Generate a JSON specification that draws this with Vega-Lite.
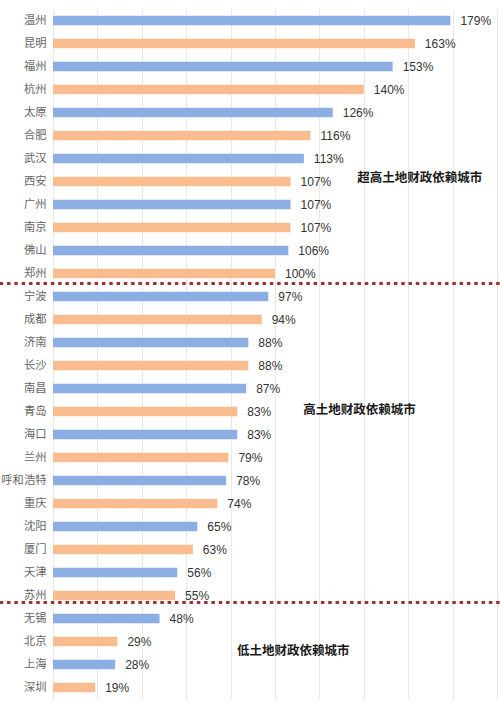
{
  "$schema": "https://vega.github.io/schema/vega-lite/v6.json",
  "width": 444,
  "height": 690,
  "autosize": {"type": "none"},
  "padding": {"left": 53, "top": 9, "right": 3, "bottom": 5},
  "background": "#ffffff",
  "data": {
    "values": [
      {"city": "温州", "ratio": 1.79},
      {"city": "昆明", "ratio": 1.63},
      {"city": "福州", "ratio": 1.53},
      {"city": "杭州", "ratio": 1.40},
      {"city": "太原", "ratio": 1.26},
      {"city": "合肥", "ratio": 1.16},
      {"city": "武汉", "ratio": 1.13},
      {"city": "西安", "ratio": 1.07},
      {"city": "广州", "ratio": 1.07},
      {"city": "南京", "ratio": 1.07},
      {"city": "佛山", "ratio": 1.06},
      {"city": "郑州", "ratio": 1.00},
      {"city": "宁波", "ratio": 0.97},
      {"city": "成都", "ratio": 0.94},
      {"city": "济南", "ratio": 0.88},
      {"city": "长沙", "ratio": 0.88},
      {"city": "南昌", "ratio": 0.87},
      {"city": "青岛", "ratio": 0.83},
      {"city": "海口", "ratio": 0.83},
      {"city": "兰州", "ratio": 0.79},
      {"city": "呼和浩特", "ratio": 0.78},
      {"city": "重庆", "ratio": 0.74},
      {"city": "沈阳", "ratio": 0.65},
      {"city": "厦门", "ratio": 0.63},
      {"city": "天津", "ratio": 0.56},
      {"city": "苏州", "ratio": 0.55},
      {"city": "无锡", "ratio": 0.48},
      {"city": "北京", "ratio": 0.29},
      {"city": "上海", "ratio": 0.28},
      {"city": "深圳", "ratio": 0.19}
    ]
  },
  "transform": [
    {"window": [{"op": "row_number", "as": "rank"}]},
    {"calculate": "datum.rank % 2 == 1 ? 'a' : 'b'", "as": "shade"}
  ],
  "encoding": {
    "y": {
      "field": "city",
      "type": "nominal",
      "sort": null,
      "scale": {"paddingInner": 0.58, "paddingOuter": 0.29},
      "axis": {
        "title": null,
        "domain": false,
        "ticks": false,
        "labelPadding": 7,
        "labelFont": "Noto Sans CJK SC",
        "labelFontSize": 11.3,
        "labelColor": "#666666"
      }
    }
  },
  "layer": [
    {
      "mark": {"type": "bar"},
      "encoding": {
        "x": {
          "field": "ratio",
          "type": "quantitative",
          "scale": {"domain": [0, 2], "nice": false},
          "axis": {
            "title": null,
            "values": [0, 0.2, 0.4, 0.6, 0.8, 1.0, 1.2, 1.4, 1.6, 1.8, 2.0],
            "labels": false,
            "ticks": false,
            "domain": false,
            "grid": true,
            "gridColor": "#e8e8e8",
            "gridWidth": 1
          }
        },
        "color": {
          "field": "shade",
          "type": "nominal",
          "scale": {"domain": ["a", "b"], "range": ["#8daee3", "#f9bc8e"]},
          "legend": null
        }
      }
    },
    {
      "mark": {
        "type": "text",
        "align": "left",
        "baseline": "middle",
        "dx": 10,
        "font": "Liberation Sans",
        "fontSize": 12,
        "color": "#333333"
      },
      "encoding": {
        "x": {"field": "ratio", "type": "quantitative"},
        "text": {"field": "ratio", "type": "quantitative", "format": ".0%"}
      }
    },
    {
      "transform": [{"filter": "datum.city == '郑州'"}],
      "mark": {
        "type": "rule",
        "color": "#9a3434",
        "strokeWidth": 3,
        "strokeDash": [3.5, 3.8],
        "yOffset": 10,
        "clip": false
      },
      "encoding": {
        "x": {"datum": -0.24},
        "x2": {"datum": 2.02}
      }
    },
    {
      "transform": [{"filter": "datum.city == '苏州'"}],
      "mark": {
        "type": "rule",
        "color": "#9a3434",
        "strokeWidth": 3,
        "strokeDash": [3.5, 3.8],
        "yOffset": 7,
        "clip": false
      },
      "encoding": {
        "x": {"datum": -0.24},
        "x2": {"datum": 2.02}
      }
    },
    {
      "data": {"values": [{"note": "超高土地财政依赖城市"}]},
      "mark": {
        "type": "text",
        "align": "left",
        "baseline": "middle",
        "dy": -4,
        "font": "Noto Sans CJK SC",
        "fontSize": 12.5,
        "fontWeight": "bold",
        "color": "#1a1a1a"
      },
      "encoding": {
        "x": {"datum": 1.37},
        "y": {"datum": "西安"},
        "text": {"field": "note"}
      }
    },
    {
      "data": {"values": [{"note": "高土地财政依赖城市"}]},
      "mark": {
        "type": "text",
        "align": "left",
        "baseline": "middle",
        "dy": -2,
        "font": "Noto Sans CJK SC",
        "fontSize": 12.5,
        "fontWeight": "bold",
        "color": "#1a1a1a"
      },
      "encoding": {
        "x": {"datum": 1.127},
        "y": {"datum": "青岛"},
        "text": {"field": "note"}
      }
    },
    {
      "data": {"values": [{"note": "低土地财政依赖城市"}]},
      "mark": {
        "type": "text",
        "align": "left",
        "baseline": "middle",
        "dy": 9,
        "font": "Noto Sans CJK SC",
        "fontSize": 12.5,
        "fontWeight": "bold",
        "color": "#1a1a1a"
      },
      "encoding": {
        "x": {"datum": 0.829},
        "y": {"datum": "北京"},
        "text": {"field": "note"}
      }
    }
  ],
  "config": {
    "view": {"stroke": null}
  }
}
